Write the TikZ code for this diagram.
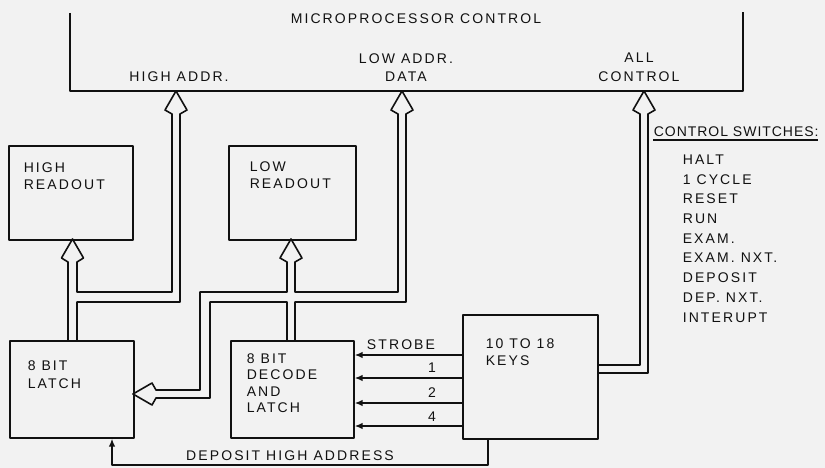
\documentclass[tikz,border=0pt]{standalone}
\usepackage{fontspec}
\setmainfont{Liberation Sans}[LetterSpace=15]
\usetikzlibrary{arrows.meta}
\definecolor{ink}{HTML}{111111}
\definecolor{paper}{HTML}{F2F2F2}
\begin{document}
\begin{tikzpicture}[x=1pt,y=-1pt, line width=1.6pt, line join=round, color=ink,
  box/.style={draw, rectangle, inner sep=0pt, anchor=north west},
  lbl/.style={inner sep=0pt, font=\fontsize{14}{16.5}\selectfont},
  sig/.style={-{Latex[length=8pt,width=6.5pt]}},
  bus/.style={line width=1.6pt, line join=round}]
\fill[paper] (0,0) rectangle (825,468);
\useasboundingbox (0,0) rectangle (825,468);

% microprocessor frame (open at top)
\coordinate (fl) at (70,13);
\coordinate (fr) at (743,12);
\draw (fl) -- (70,91) -- (743,91) -- (fr);
\node[lbl] (mpc) at (416,18.5) {MICROPROCESSOR CONTROL};
\node[lbl] (ha) at (179,77) {HIGH ADDR.};
\node[lbl, align=center, anchor=north, font=\fontsize{14}{18.4}\selectfont] (la) at (406,52.5) {LOW ADDR.\\DATA};
\node[lbl, align=center, anchor=north, font=\fontsize{14}{18.4}\selectfont] (ac) at (639,52.5) {ALL\\CONTROL};

% boxes
\node[box, minimum width=124pt, minimum height=94pt] (hiro) at (8,145) {};
\node[box, minimum width=127pt, minimum height=94pt] (loro) at (228,145) {};
\node[box, minimum width=124pt, minimum height=97pt] (latch) at (9,340) {};
\node[box, minimum width=123pt, minimum height=97pt] (decode) at (230,340) {};
\node[box, minimum width=135pt, minimum height=124pt] (keys) at (462,314) {};

\node[lbl, anchor=north west, align=left, font=\fontsize{14}{16.5}\selectfont] (hirot) at (23,162) {HIGH\\READOUT};
\node[lbl, anchor=north west, align=left, font=\fontsize{14}{16.8}\selectfont] (lorot) at (249,161) {LOW\\READOUT};
\node[lbl, anchor=north west, align=left, font=\fontsize{14}{18}\selectfont] (latcht) at (27,360) {8 BIT\\LATCH};
\node[lbl, anchor=north west, align=left, font=\fontsize{14}{16.4}\selectfont] (decodet) at (246,353) {8 BIT\\DECODE\\AND\\LATCH};
\node[lbl, anchor=north west, align=left, font=\fontsize{14}{17}\selectfont] (keyst) at (485,338) {10 TO 18\\KEYS};

% high address bus
\draw[bus] (68,340) -- (68,262) -- (61.5,258) -- (72.5,239) -- (83.5,258) -- (77,262)
  -- (77,292) -- (172,292) -- (172,114) -- (165,110) -- (176,91) -- (187,110) -- (180,114)
  -- (180,302) -- (77,302) -- (77,340);

% low address / data bus
\draw[bus] (287,340) -- (287,302) -- (210,302) -- (210,398) -- (156,398) -- (152,405)
  -- (133,394) -- (152,383) -- (156,390) -- (200,390) -- (200,292) -- (287,292)
  -- (287,262) -- (280,258) -- (291,239) -- (302,258) -- (295,262) -- (295,292)
  -- (398,292) -- (398,114) -- (391,110) -- (402,91) -- (413,110) -- (406,114)
  -- (406,302) -- (295,302) -- (295,340);

% control bus
\draw[bus] (597,365) -- (640,365) -- (640,114) -- (633,110) -- (644,91) -- (655,110)
  -- (648,114) -- (648,373) -- (597,373);

% strobe and data lines
\coordinate (s0) at (0,355);
\coordinate (s1) at (0,378);
\coordinate (s2) at (0,403);
\coordinate (s4) at (0,426);
\draw[sig] (keys.west |- s0) -- (decode.east |- s0);
\draw[sig] (keys.west |- s1) -- (decode.east |- s1);
\draw[sig] (keys.west |- s2) -- (decode.east |- s2);
\draw[sig] (keys.west |- s4) -- (decode.east |- s4);
\node[lbl] (strobe) at (401,345) {STROBE};
\node[lbl] (n1) at (432,368) {1};
\node[lbl] (n2) at (432,392.5) {2};
\node[lbl] (n4) at (432,417) {4};

% deposit high address
\coordinate (d1) at (488,465);
\coordinate (d2) at (112,465);
\draw[sig] (keys.south -| d1) -- (d1) -- (d2) -- (d2 |- latch.south);
\node[lbl] (dep) at (290,455.5) {DEPOSIT HIGH ADDRESS};

% control switches
\node[lbl, anchor=west, font=\fontsize{14}{16.5}\selectfont\addfontfeatures{LetterSpace=7}] (cs) at (653,132) {CONTROL SWITCHES:};
\draw[line width=1.2pt] (653,140) -- (818,140);
\node[lbl, anchor=north west, align=left, font=\fontsize{14}{19.7}\selectfont] (csl) at (682,154)
  {HALT\\1 CYCLE\\RESET\\RUN\\EXAM.\\EXAM. NXT.\\DEPOSIT\\DEP. NXT.\\INTERUPT};
\end{tikzpicture}
\end{document}
